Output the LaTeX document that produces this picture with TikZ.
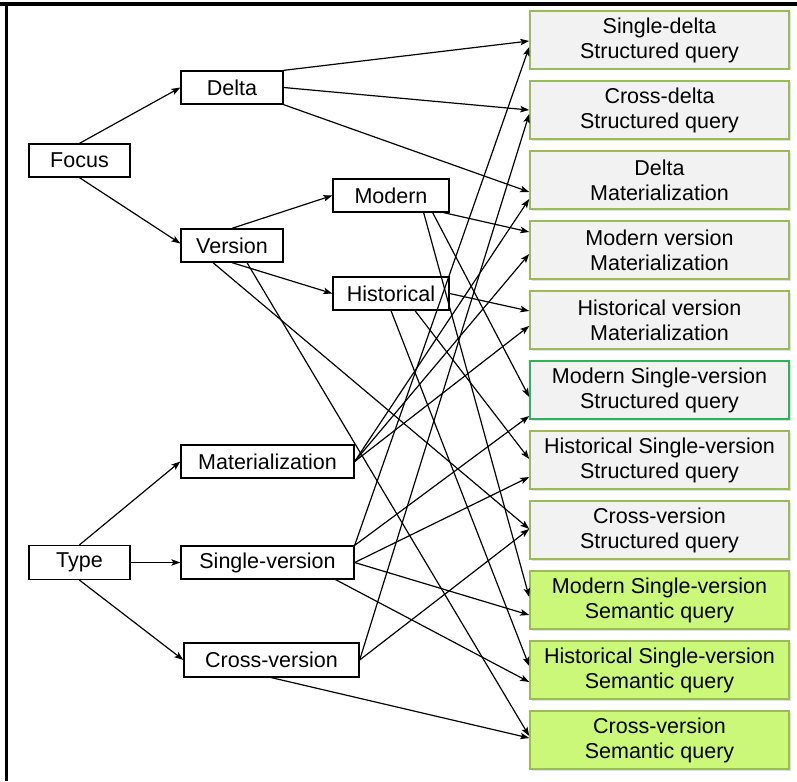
\documentclass[tikz,border=0pt]{standalone}
\usepackage{fontspec}
\setmainfont{Liberation Sans}
\usetikzlibrary{arrows.meta,shapes,positioning,shadows}
\definecolor{qgray}{RGB}{242,242,242}
\definecolor{qgreen}{RGB}{204,248,122}
\definecolor{qline}{RGB}{155,187,89}
\definecolor{qline2}{RGB}{46,178,90}

\begin{document}
\begin{tikzpicture}[x=1pt,y=1pt,->,>={Stealth[length=9pt,width=6.5pt,inset=2pt]},line width=1.2pt,node distance=70pt,
        facet/.style={rectangle,draw=black,line width=1.3pt,fill=white,inner sep=0pt,minimum height=33pt},
        query/.style={rectangle,draw=qline,line width=1.6pt,fill=qgray,inner sep=0pt,align=center,
          minimum width=259pt,minimum height=58pt,drop shadow={shadow xshift=1.5pt,shadow yshift=-1.5pt,opacity=.25}},
        every node/.style={font=\fontsize{21.5}{25}\selectfont}]
        \useasboundingbox (0,0) rectangle (797,-781);
        \draw[-,line width=4pt] (0,-4) -- (797,-4);
        \draw[-,line width=3pt] (6.5,-4) -- (6.5,-781);
        % facets
        \node[facet,minimum width=101pt] (focus) at (79.5,-160.5) {Focus};
        \node[facet,minimum width=102pt] (delta) at (232,-87.5) {Delta};
        \node[facet,minimum width=102pt] (version) [below of=delta,node distance=158pt] {Version};
        \node[facet,minimum width=116pt] (modern) at (391,-195.5) {Modern};
        \node[facet,minimum width=116pt] (historical) [below of=modern,node distance=98pt] {Historical};
        \node[facet,minimum width=173pt] (mat) at (267.5,-461.5) {Materialization};
        \node[facet,minimum width=101pt,minimum height=34pt] (type) at (79.5,-562.5) {Type};
        \node[facet,minimum width=173pt] (single) at (267.5,-562.5) {Single-version};
        \node[facet,minimum width=175pt,minimum height=34pt] (cross) at (271.5,-660) {Cross-version};
        % queries
        \node[query] (r1) at (659.5,-40) {Single-delta\\Structured query};
        \node[query] (r2) [below of=r1] {Cross-delta\\Structured query};
        \node[query] (r3) [below of=r2] {Delta\\Materialization};
        \node[query] (r4) [below of=r3] {Modern version\\Materialization};
        \node[query] (r5) [below of=r4] {Historical version\\Materialization};
        \node[query,draw=qline2] (r6) [below of=r5] {Modern Single-version\\Structured query};
        \node[query] (r7) [below of=r6] {Historical Single-version\\Structured query};
        \node[query] (r8) [below of=r7] {Cross-version\\Structured query};
        \node[query,fill=qgreen] (r9) [below of=r8] {Modern Single-version\\Semantic query};
        \node[query,fill=qgreen] (r10) [below of=r9] {Historical Single-version\\Semantic query};
        \node[query,fill=qgreen] (r11) [below of=r10] {Cross-version\\Semantic query};
        \path
          (focus.north) edge (delta.west)
          (focus.south) edge ([yshift=2pt]version.west)
          (version.north) edge (modern.west)
          (version.south) edge (historical.west)
          (type.north) edge (mat.west)
          (type.east) edge (single.west)
          (type.south) edge (cross.west)
          % delta
          (delta.north east) edge ([yshift=-1pt]r1.west)
          (delta.east) edge (r2.west)
          (delta.south east) edge ([yshift=-12pt]r3.west)
          % modern / historical
          ([xshift=-6pt]modern.south east) edge ([yshift=18pt]r4.west)
          ([xshift=-17pt]modern.south east) edge ([yshift=-7pt]r6.west)
          ([xshift=-26pt]modern.south east) edge ([yshift=3pt]r9.west)
          (historical.east) edge ([yshift=9pt]r5.west)
          ([xshift=24pt]historical.south) edge ([yshift=1pt]r7.west)
          (historical.south) edge ([yshift=4pt]r10.west)
          ([xshift=-19pt]version.south) edge ([yshift=1pt]r8.west)
          ([xshift=15pt]version.south) edge ([yshift=4pt]r11.west)
          % materialization
          (mat.east) edge ([yshift=-19pt]r3.west)
          (mat.east) edge ([yshift=-4pt]r4.west)
          (mat.east) edge ([yshift=-6pt]r5.west)
          % single-version
          (single.north east) edge ([yshift=-7pt]r1.west)
          (single.north east) edge ([yshift=-26pt]r6.west)
          (single.east) edge ([yshift=-17pt]r7.west)
          (single.east) edge ([yshift=-15pt]r9.west)
          ([xshift=-19pt]single.south east) edge ([yshift=-12pt]r10.west)
          % cross-version
          (cross.east) edge ([yshift=-4pt]r2.west)
          (cross.east) edge ([yshift=1pt]r8.west)
          (cross.south) edge ([yshift=2pt]r11.west)
          ;
      \end{tikzpicture}
\end{document}
